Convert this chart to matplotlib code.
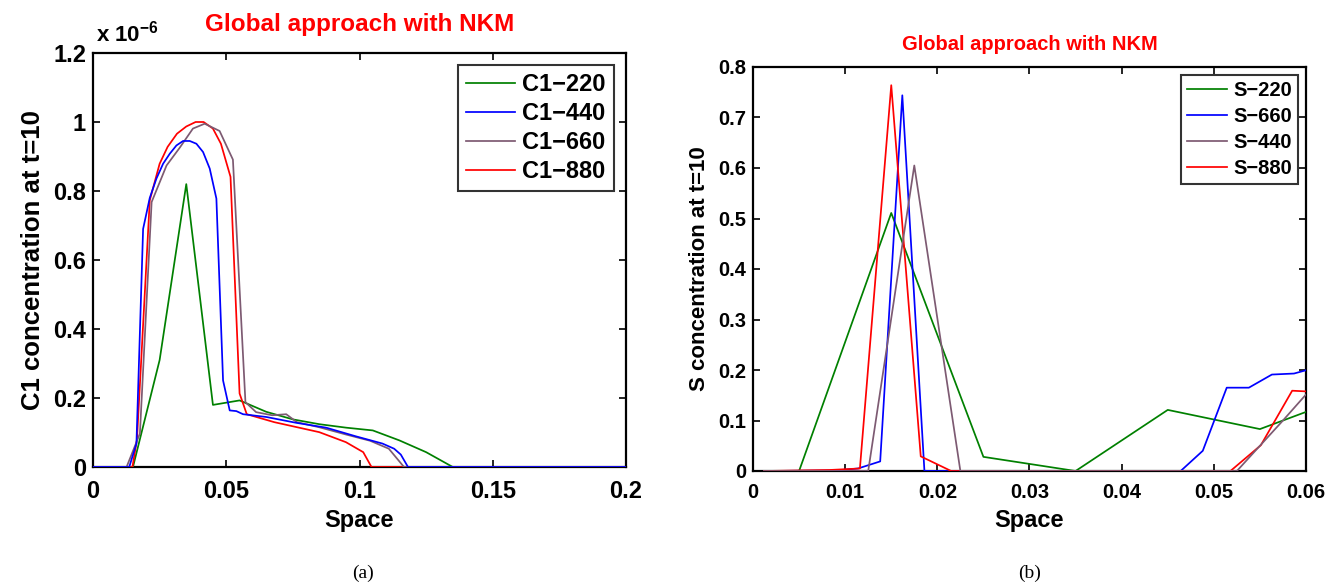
import numpy as np
import matplotlib
matplotlib.use("Agg")
import matplotlib.pyplot as plt

plt.rcParams['font.family'] = ['Liberation Sans', 'DejaVu Sans']
plt.rcParams['font.weight'] = 'bold'
plt.rcParams['mathtext.fontset'] = 'custom'
plt.rcParams['mathtext.rm'] = 'Liberation Sans:bold'
plt.rcParams['mathtext.bf'] = 'Liberation Sans:bold'

# ---- panel (a): C1 concentration (units of 1e-6) ----
c1_220_x = [0, 0.015, 0.025, 0.035, 0.045, 0.055, 0.065, 0.075, 0.085, 0.095, 0.105, 0.115, 0.125, 0.135, 0.2]
c1_220_y = [0, 0, 0.31, 0.82, 0.18, 0.193, 0.16, 0.138, 0.124, 0.114, 0.106, 0.077, 0.043, 0, 0]

c1_440_x = [0, 0.0136, 0.0163, 0.0188, 0.0213, 0.0238, 0.0263, 0.0288, 0.0313, 0.0338, 0.0363, 0.0388,
            0.0413, 0.0438, 0.0463, 0.0488, 0.0513, 0.0538, 0.0563, 0.065, 0.0763, 0.0875, 0.0986,
            0.1086, 0.113, 0.1155, 0.1182, 0.2]
c1_440_y = [0, 0, 0.068, 0.69, 0.78, 0.836, 0.879, 0.908, 0.932, 0.945, 0.945, 0.937,
            0.913, 0.865, 0.778, 0.251, 0.164, 0.162, 0.153, 0.145, 0.128, 0.114, 0.089,
            0.068, 0.053, 0.036, 0, 0]

c1_660_x = [0, 0.0126, 0.0176, 0.022, 0.0276, 0.0325, 0.0375, 0.0419, 0.0475, 0.0525, 0.0572, 0.0612,
            0.0672, 0.0725, 0.0765, 0.085, 0.095, 0.104, 0.111, 0.1167, 0.2]
c1_660_y = [0, 0, 0.097, 0.768, 0.874, 0.925, 0.981, 0.995, 0.974, 0.891, 0.188, 0.159,
            0.15, 0.153, 0.13, 0.115, 0.094, 0.076, 0.053, 0, 0]

c1_880_x = [0, 0.0148, 0.0165, 0.0213, 0.025, 0.028, 0.0315, 0.035, 0.0385, 0.0415, 0.045, 0.048,
            0.0516, 0.055, 0.0577, 0.068, 0.0849, 0.0949, 0.1014, 0.1045, 0.2]
c1_880_y = [0, 0, 0.08, 0.773, 0.879, 0.928, 0.966, 0.987, 1.0, 1.0, 0.981, 0.937,
            0.841, 0.213, 0.153, 0.13, 0.101, 0.072, 0.043, 0, 0]

# ---- panel (b): S concentration ----
s_220_x = [0.0012, 0.005, 0.015, 0.025, 0.035, 0.045, 0.055, 0.065]
s_220_y = [0, 0, 0.511, 0.028, 0, 0.121, 0.083, 0.151]

s_660_x = [0.0012, 0.009, 0.0114, 0.0138, 0.0162, 0.0186, 0.0464, 0.0488, 0.0514, 0.0538, 0.0563, 0.0587, 0.0611]
s_660_y = [0, 0.001, 0.005, 0.019, 0.744, 0, 0, 0.04, 0.165, 0.165, 0.191, 0.193, 0.205]

s_440_x = [0.0012, 0.0125, 0.0175, 0.0225, 0.0525, 0.0575, 0.0625]
s_440_y = [0, 0, 0.605, 0, 0, 0.1, 0.203]

s_880_x = [0.0012, 0.0083, 0.0116, 0.015, 0.0182, 0.0215, 0.0518, 0.0551, 0.0585, 0.0618]
s_880_y = [0, 0.002, 0.005, 0.764, 0.029, 0, 0, 0.051, 0.159, 0.156]

green = '#008000'
blue = '#0000ff'
purple = '#7d5a72'
red = '#ff0000'

fig = plt.figure(figsize=(13.39, 5.85), dpi=100)
ax1 = fig.add_axes([93/1339, 118/585, 533/1339, 414/585])
ax2 = fig.add_axes([753/1339, 114/585, 553/1339, 404/585])

lw = 1.25
ax1.plot(c1_220_x, c1_220_y, color=green, lw=lw, label='C1\u2212220', zorder=3)
ax1.plot(c1_440_x, c1_440_y, color=blue, lw=lw, label='C1\u2212440', zorder=3.3)
ax1.plot(c1_660_x, c1_660_y, color=purple, lw=lw, label='C1\u2212660', zorder=3.2)
ax1.plot(c1_880_x, c1_880_y, color=red, lw=lw, label='C1\u2212880', zorder=3.1)

ax2.plot(s_220_x, s_220_y, color=green, lw=lw, label='S\u2212220', zorder=3)
ax2.plot(s_660_x, s_660_y, color=blue, lw=lw, label='S\u2212660', zorder=3.1)
ax2.plot(s_440_x, s_440_y, color=purple, lw=lw, label='S\u2212440', zorder=3.3)
ax2.plot(s_880_x, s_880_y, color=red, lw=lw, label='S\u2212880', zorder=3.2)

ax1.set_xlim(0, 0.2)
ax1.set_ylim(0, 1.2)
ax1.set_xticks([0, 0.05, 0.1, 0.15, 0.2])
ax1.set_xticklabels(['0', '0.05', '0.1', '0.15', '0.2'])
ax1.set_yticks([0, 0.2, 0.4, 0.6, 0.8, 1.0, 1.2])
ax1.set_yticklabels(['0', '0.2', '0.4', '0.6', '0.8', '1', '1.2'])

ax2.set_xlim(0, 0.06)
ax2.set_ylim(0, 0.8)
ax2.set_xticks([0, 0.01, 0.02, 0.03, 0.04, 0.05, 0.06])
ax2.set_xticklabels(['0', '0.01', '0.02', '0.03', '0.04', '0.05', '0.06'])
ax2.set_yticks(np.arange(0, 0.81, 0.1))
ax2.set_yticklabels(['0', '0.1', '0.2', '0.3', '0.4', '0.5', '0.6', '0.7', '0.8'])

for ax, fs in [(ax1, 17), (ax2, 14.5)]:
    for s in ax.spines.values():
        s.set_linewidth(1.6)
    ax.tick_params(direction='in', top=True, right=True, length=5, width=1.2,
                   labelsize=fs)
    ax.tick_params(axis='x', pad=9)
    ax.tick_params(axis='y', pad=5)
    for lab in ax.get_xticklabels() + ax.get_yticklabels():
        lab.set_fontweight('bold')

ax1.set_xlabel('Space', fontsize=17, fontweight='bold', labelpad=5)
ax1.set_ylabel('C1 concentration at t=10', fontsize=18.5, fontweight='bold', labelpad=6)
ax2.set_xlabel('Space', fontsize=17, fontweight='bold', labelpad=5)
ax2.set_ylabel('S concentration at t=10', fontsize=16, fontweight='bold', labelpad=6)

ax1.text(0.005, 1.015, r'x 10$^{-6}$', transform=ax1.transAxes, fontsize=16,
         fontweight='bold', ha='left', va='bottom')

leg1 = ax1.legend(loc='upper right', fontsize=17, frameon=True, fancybox=False,
                  handlelength=2.1, handletextpad=0.3, borderpad=0.35, labelspacing=0.25,
                  borderaxespad=0.5)
leg1.get_frame().set_edgecolor('black')
leg1.get_frame().set_linewidth(1.5)
for t in leg1.get_texts():
    t.set_fontweight('bold')

leg2 = ax2.legend(loc='upper right', fontsize=14.5, frameon=True, fancybox=False,
                  handlelength=2.0, handletextpad=0.3, borderpad=0.3, labelspacing=0.35,
                  borderaxespad=0.4)
leg2.get_frame().set_edgecolor('black')
leg2.get_frame().set_linewidth(1.5)
for t in leg2.get_texts():
    t.set_fontweight('bold')

fig.text(360/1339, 1 - 25/585, 'Global approach with NKM', color='red', fontsize=17.5,
         fontweight='bold', ha='center', va='center')
fig.text(1030/1339, 1 - 44/585, 'Global approach with NKM', color='red', fontsize=14.5,
         fontweight='bold', ha='center', va='center')

fig.text(363/1339, 1 - 573/585, '(a)', family=['Liberation Serif'], fontweight='normal',
         fontsize=14, ha='center', va='center')
fig.text(1030/1339, 1 - 573/585, '(b)', family=['Liberation Serif'], fontweight='normal',
         fontsize=14, ha='center', va='center')

fig.savefig('out.png', dpi=100)
